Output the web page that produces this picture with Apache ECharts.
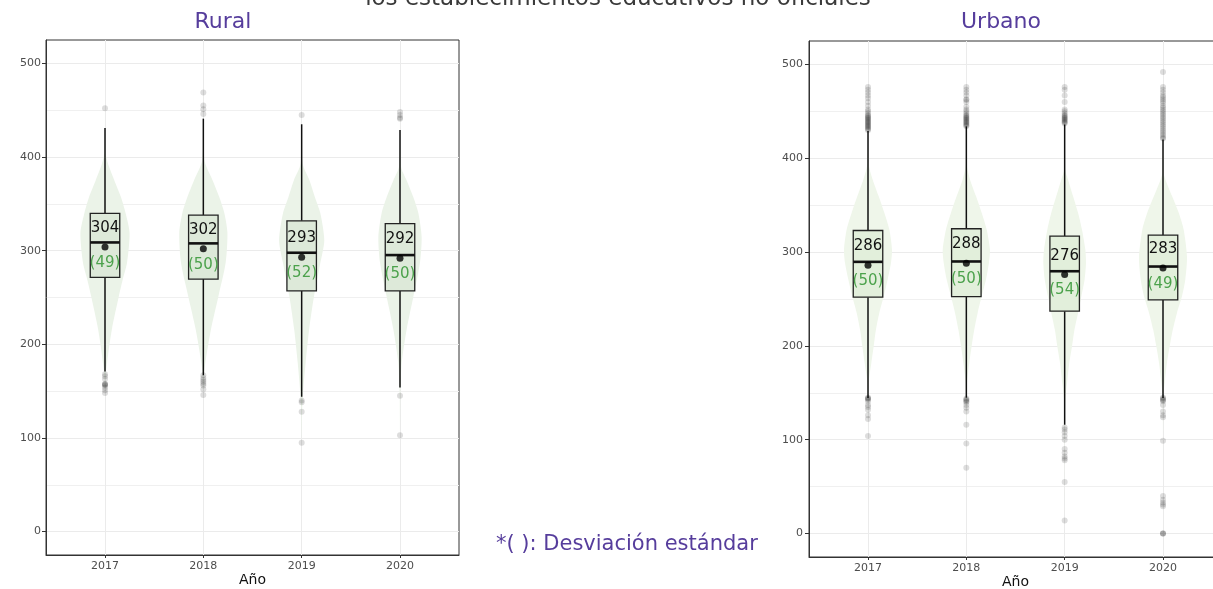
<!DOCTYPE html>
<html>
<head>
<meta charset="utf-8">
<script src="https://cdn.jsdelivr.net/npm/echarts@6/dist/echarts.min.js"></script>
<style>html,body{margin:0;padding:0;background:#fff;}#c{width:1213px;height:589px;}</style>
</head>
<body>
<div id="c"></div>
<script>
// ---------- DATA ----------
const years = ['2017', '2018', '2019', '2020'];
const yTicks = [0, 100, 200, 300, 400, 500];
const yMinorTicks = [50, 150, 250, 350, 450];

// Rural
const ruralMean = [304, 302, 293, 292];
const ruralSD = [49, 50, 52, 50];
const ruralQ1 = [271.5, 269.7, 257, 257];
const ruralMedian = [308.8, 307.8, 297.8, 295.3];
const ruralQ3 = [339.8, 337.9, 331.9, 329];
const ruralWhiskerLow = [171, 167, 144, 154];
const ruralWhiskerHigh = [431, 441, 435, 429];
const ruralOutliers = [
  [168, 166, 163, 158, 157, 157, 156, 154, 151, 148, 452],
  [167, 164, 162, 160, 158, 156, 152, 146, 469, 455, 451, 446],
  [140, 138, 128, 95, 445],
  [145, 103, 448, 445, 442, 441]
];
// violin profile: [value, half-width in category units]
const ruralViolin = [
  [[148,0],[165,0.005],[180,0.02],[216,0.07],[251,0.14],[269,0.18],[287,0.224],[319,0.25],[340,0.21],[357,0.163],[375,0.095],[393,0.03],[405,0.005],[452,0]],
  [[146,0],[165,0.005],[180,0.02],[216,0.078],[251,0.153],[287,0.227],[319,0.245],[340,0.214],[357,0.163],[375,0.095],[397,0.01],[469,0]],
  [[95,0],[130,0.005],[150,0.015],[180,0.04],[215,0.075],[251,0.125],[287,0.19],[311,0.23],[340,0.19],[357,0.135],[375,0.08],[393,0.01],[445,0]],
  [[103,0],[145,0.003],[160,0.008],[180,0.017],[216,0.068],[251,0.136],[287,0.203],[315,0.22],[340,0.187],[357,0.136],[375,0.068],[390,0.01],[448,0]]
];

// Urbano
const urbanMean = [286, 288, 276, 283];
const urbanSD = [50, 50, 54, 49];
const urbanQ1 = [251.9, 252.6, 237, 249];
const urbanMedian = [289.6, 290, 279.6, 284.6];
const urbanQ3 = [323, 324.9, 317, 318];
const urbanWhiskerLow = [144.5, 144.8, 116, 144.5];
const urbanWhiskerHigh = [429, 434, 436, 420];
const urbanOutliers = [
  [476,473,470,467,464,460,456,452,450,448,446,445,444,443,442,441,440,439,438,437,436,435,434,433,432,431,430,
   145,144,144,143,141,137,135,132,126,122,104],
  [476,473,470,467,463,462,460,455,452,450,448,446,445,444,443,442,441,440,439,438,437,436,435,434,
   144,143,142,141,140,137,134,130,116,96,70],
  [476,473,467,460,452,450,448,446,445,444,443,442,441,440,439,438,437,
   113,111,108,104,100,90,86,82,80,78,55,14],
  [492,476,473,470,467,465,463,461,459,456,454,452,450,448,446,444,442,440,438,436,434,432,430,428,426,424,422,421,
   145,144,143,142,141,137,130,126,124,99,40,36,33,31,29,0,0,0]
];
const urbanViolin = [
  [[104,0],[145,0.002],[160.5,0.005],[181.8,0.034],[199.6,0.058],[217.4,0.081],[235.2,0.115],[252.9,0.16],[270.8,0.2],[288.6,0.234],[302.8,0.244],[324.1,0.217],[341.9,0.166],[359.7,0.108],[377.5,0.047],[395.3,0.005],[476,0]],
  [[70,0],[145,0.002],[160.5,0.006],[181.8,0.03],[199.6,0.054],[217.4,0.081],[235.2,0.115],[252.9,0.156],[270.8,0.2],[288.6,0.23],[302.8,0.24],[324.1,0.207],[341.9,0.156],[359.7,0.098],[377.5,0.037],[393,0.005],[476,0]],
  [[14,0],[116,0.002],[145,0.008],[160.5,0.024],[181.8,0.047],[199.6,0.075],[217.4,0.1],[235.2,0.136],[252.9,0.17],[270.8,0.203],[288.6,0.217],[302.8,0.21],[324.1,0.176],[341.9,0.136],[359.7,0.085],[377.5,0.034],[388,0.005],[476,0]],
  [[0,0],[145,0.003],[160.5,0.017],[181.8,0.04],[199.6,0.068],[217.4,0.1],[235.2,0.142],[252.9,0.193],[270.8,0.227],[295,0.244],[324.1,0.21],[341.9,0.16],[359.7,0.092],[377.5,0.024],[385,0.005],[492,0]]
];

// ---------- STYLE ----------
const FONT = '"DejaVu Sans", sans-serif';
const PURPLE = '#563d9c';
const GREEN_TXT = '#4ca24c';
const BOX_HALF = 0.15;

function panelSeries(g, violin, mean, sd, q1, med, q3, wl, wh, outliers, violinFill, boxFill) {
  const idx = years.map((y, i) => i);
  const series = [];
  series.push({
    type: 'custom', xAxisIndex: g, yAxisIndex: g * 2, z: 2, silent: true,
    data: idx.map(i => [i, mean[i]]),
    renderItem: function (params, api) {
      const i = api.value(0);
      const prof = violin[i];
      const left = prof.map(p => api.coord([i - p[1], p[0]]));
      const right = prof.slice().reverse().map(p => api.coord([i + p[1], p[0]]));
      return { type: 'polygon', shape: { points: left.concat(right), smooth: 0.25 },
        style: { fill: violinFill, stroke: null } };
    }
  });
  series.push({
    type: 'custom', xAxisIndex: g, yAxisIndex: g * 2, z: 3, silent: true,
    data: idx.map(i => [i, wl[i], q1[i], med[i], q3[i], wh[i]]),
    renderItem: function (params, api) {
      const i = api.value(0);
      const pLow = api.coord([i, api.value(1)]);
      const pQ1 = api.coord([i, api.value(2)]);
      const pMed = api.coord([i, api.value(3)]);
      const pQ3 = api.coord([i, api.value(4)]);
      const pHigh = api.coord([i, api.value(5)]);
      const xl = api.coord([i - BOX_HALF, 0])[0];
      const xr = api.coord([i + BOX_HALF, 0])[0];
      return { type: 'group', children: [
        { type: 'line', shape: { x1: pLow[0], y1: pLow[1], x2: pQ1[0], y2: pQ1[1] }, style: { stroke: '#111', lineWidth: 1.5 } },
        { type: 'line', shape: { x1: pQ3[0], y1: pQ3[1], x2: pHigh[0], y2: pHigh[1] }, style: { stroke: '#111', lineWidth: 1.5 } },
        { type: 'rect', shape: { x: xl, y: pQ3[1], width: xr - xl, height: pQ1[1] - pQ3[1] }, style: { fill: boxFill, stroke: '#222', lineWidth: 1.3 } },
        { type: 'line', shape: { x1: xl, y1: pMed[1], x2: xr, y2: pMed[1] }, style: { stroke: '#111', lineWidth: 2.6 } }
      ] };
    }
  });
  series.push({
    type: 'scatter', xAxisIndex: g, yAxisIndex: g * 2, z: 4, silent: true,
    symbolSize: 6,
    itemStyle: { color: 'rgba(0,0,0,0.17)' },
    data: outliers.flatMap((arr, i) => arr.map(v => [i, v]))
  });
  series.push({
    type: 'scatter', xAxisIndex: g, yAxisIndex: g * 2, z: 5, silent: true,
    symbolSize: 7,
    itemStyle: { color: '#000' },
    data: idx.map(i => [i, mean[i]])
  });
  series.push({
    type: 'custom', xAxisIndex: g, yAxisIndex: g * 2, z: 6, silent: true,
    data: idx.map(i => [i, mean[i], sd[i]]),
    renderItem: function (params, api) {
      const i = api.value(0);
      const m = api.value(1);
      const s = api.value(2);
      const p1 = api.coord([i, m + 20]);
      const p2 = api.coord([i, m - 17]);
      return { type: 'group', children: [
        { type: 'text', x: p1[0], y: p1[1], style: { text: String(m), fill: '#111', font: '15px ' + FONT, align: 'center', verticalAlign: 'middle' } },
        { type: 'text', x: p2[0], y: p2[1], style: { text: '(' + s + ')', fill: GREEN_TXT, font: '15px ' + FONT, align: 'center', verticalAlign: 'middle' } }
      ] };
    }
  });
  return series;
}

function xAxisFor(g) {
  return {
    type: 'value', gridIndex: g, min: -0.6, max: 3.6,
    name: 'Año', nameLocation: 'middle', nameGap: 18, nameMoveOverlap: false,
    nameTextStyle: { color: '#111', fontSize: 14, fontFamily: FONT },
    axisLine: { show: true, onZero: false, lineStyle: { color: '#333', width: 1 } },
    axisTick: { show: true, length: 3, customValues: [0, 1, 2, 3], lineStyle: { color: '#333' } },
    axisLabel: { customValues: [0, 1, 2, 3], formatter: v => years[Math.round(v)], color: '#4d4d4d', fontSize: 11, fontFamily: FONT, margin: 6 },
    splitLine: { show: true, lineStyle: { color: '#ebebeb', width: 1 } }
  };
}
function yAxesFor(g, margin) {
  return [{
    type: 'value', gridIndex: g, min: -25, max: 525, position: 'left',
    axisLine: { show: true, onZero: false, lineStyle: { color: '#333', width: 1 } },
    axisTick: { show: true, length: 4, customValues: yTicks, lineStyle: { color: '#333' } },
    axisLabel: { customValues: yTicks, color: '#4d4d4d', fontSize: 11, fontFamily: FONT, margin: margin },
    splitLine: { show: true, lineStyle: { color: '#ebebeb', width: 1 } }
  }, {
    type: 'value', gridIndex: g, min: -25, max: 525, position: 'right',
    axisLine: { show: false },
    axisTick: { show: false, customValues: yMinorTicks },
    axisLabel: { show: false, customValues: yMinorTicks },
    splitLine: { show: true, lineStyle: { color: '#f0f0f0', width: 1 } }
  }];
}

const chart = echarts.init(document.getElementById('c'), null, { renderer: 'canvas' });
chart.setOption({
  animation: false,
  backgroundColor: '#fff',
  textStyle: { fontFamily: FONT },
  grid: [
    { left: 46, top: 40, width: 413, height: 515, show: true, borderColor: '#333', borderWidth: 1, backgroundColor: '#fff', outerBoundsMode: 'none', containLabel: false },
    { left: 809, top: 41, width: 413, height: 516, show: true, borderColor: '#333', borderWidth: 1, backgroundColor: '#fff', outerBoundsMode: 'none', containLabel: false }
  ],
  title: [
    { text: 'Rural', left: 218, top: 6, textAlign: 'center', textStyle: { color: PURPLE, fontSize: 22, fontWeight: 'normal', fontFamily: FONT } },
    { text: 'Urbano', left: 996, top: 6, textAlign: 'center', textStyle: { color: PURPLE, fontSize: 22, fontWeight: 'normal', fontFamily: FONT } }
  ],
  graphic: [
    { type: 'text', x: 618, y: 11, style: { text: 'los establecimientos educativos no oficiales', fill: '#3a3a3a', font: '23px ' + FONT, align: 'center', verticalAlign: 'bottom' } },
    { type: 'text', x: 496, y: 545, style: { text: '*( ): Desviación estándar', fill: PURPLE, font: '21px ' + FONT, align: 'left', verticalAlign: 'middle' } }
  ],
  xAxis: [xAxisFor(0), xAxisFor(1)],
  yAxis: yAxesFor(0, 5).concat(yAxesFor(1, 6)),
  series: panelSeries(0, ruralViolin, ruralMean, ruralSD, ruralQ1, ruralMedian, ruralQ3, ruralWhiskerLow, ruralWhiskerHigh, ruralOutliers, '#ebf3e8', '#dde9d9')
    .concat(panelSeries(1, urbanViolin, urbanMean, urbanSD, urbanQ1, urbanMedian, urbanQ3, urbanWhiskerLow, urbanWhiskerHigh, urbanOutliers, '#eff6ea', '#e2efdb'))
});
</script>
</body>
</html>
